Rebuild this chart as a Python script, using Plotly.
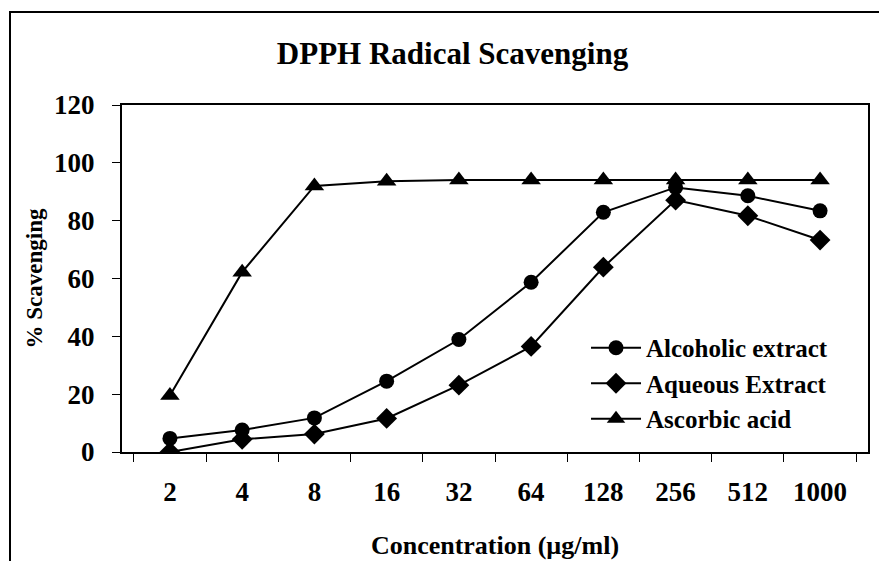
import plotly.graph_objects as go

concentrations = ["2", "4", "8", "16", "32", "64", "128", "256", "512", "1000"]
alcoholic_extract = [4.7, 7.6, 11.8, 24.5, 38.9, 58.7, 82.9, 91.5, 88.6, 83.4]
aqueous_extract = [0.0, 4.4, 6.2, 11.6, 23.1, 36.5, 63.9, 87.1, 81.7, 73.3]
ascorbic_acid = [19.5, 62.2, 92.0, 93.6, 94.1, 94.1, 94.1, 94.1, 94.1, 94.1]

y_ticks = [0, 20, 40, 60, 80, 100, 120]

FONT = "Liberation Serif"
# page body has an 8px default margin, so the figure is drawn 8px smaller
W, H = 879, 553


def bfont(size):
    return dict(size=size, family=FONT, color="black", weight="bold")


fig = go.Figure()
series = [
    ("Alcoholic extract", alcoholic_extract, "circle", 15),
    ("Aqueous Extract", aqueous_extract, "diamond", 16),
    ("Ascorbic acid", ascorbic_acid, "triangle-up", 17),
]
for name, vals, sym, sz in series:
    fig.add_trace(go.Scatter(
        x=concentrations, y=vals, name=name, mode="lines+markers",
        line=dict(color="black", width=2),
        marker=dict(symbol=sym, size=sz, color="black"),
    ))

fig.update_layout(
    width=W, height=H,
    margin=dict(l=114, r=19, t=97, b=109, autoexpand=False),
    paper_bgcolor="white", plot_bgcolor="white",
    font=dict(family=FONT, color="black"),
    title=dict(text="DPPH Radical Scavenging", x=444.5 / W, xanchor="center",
               y=1 - 45 / H, yanchor="middle", yref="container",
               font=bfont(31)),
    showlegend=True,
    legend=dict(x=0.622, xanchor="left", y=0.366, yanchor="top",
                bgcolor="rgba(0,0,0,0)", borderwidth=0,
                font=bfont(25), itemwidth=50, tracegroupgap=0),
    xaxis=dict(
        type="category", showgrid=False, zeroline=False, automargin=False,
        showline=True, linecolor="black", linewidth=2, mirror=True,
        ticks="outside", ticklen=8, tickcolor="black", tickwidth=1,
        tickson="boundaries", ticklabelstandoff=15,
        tickfont=bfont(27),
        title=dict(text="Concentration (µg/ml)", standoff=29, font=bfont(26)),
    ),
    yaxis=dict(
        range=[0, 120], tickvals=y_ticks, showgrid=False, zeroline=False,
        automargin=False,
        showline=True, linecolor="black", linewidth=2, mirror=True,
        ticks="outside", ticklen=8, tickcolor="black", tickwidth=1,
        ticklabelstandoff=12,
        tickfont=bfont(27),
        title=dict(text="% Scavenging", standoff=5, font=bfont(23)),
    ),
    shapes=[dict(type="rect", xref="paper", yref="paper",
                 x0=(10 - 122) / 746, x1=1.3, y0=-0.6, y1=(452 - 12) / 347,
                 line=dict(color="black", width=2), fillcolor="rgba(0,0,0,0)",
                 layer="below")],
)

fig.write_html("out.html")
